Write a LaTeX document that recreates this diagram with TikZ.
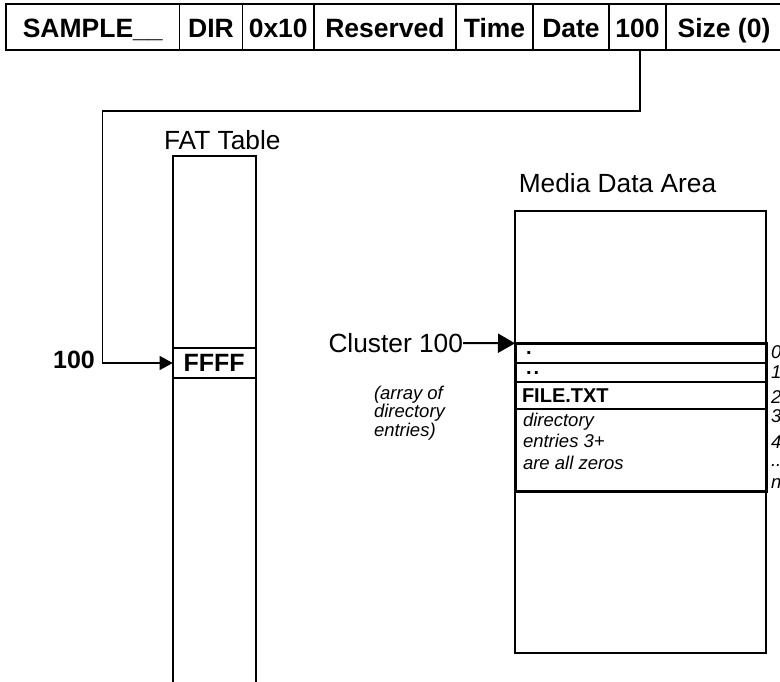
\documentclass[tikz,border=0pt]{standalone}
\usepackage{fontspec}
\setmainfont{Liberation Sans}
\usetikzlibrary{arrows.meta,positioning}

\begin{document}
\begin{tikzpicture}[x=1pt,y=-1pt,
  every node/.style={inner sep=0pt,outer sep=0pt},
  big/.style={font=\fontsize{26.3}{30}\selectfont},
  bigbf/.style={font=\fontsize{25}{30}\selectfont\bfseries},
  hcell/.style={draw,line width=1.3pt,minimum height=46pt,text height=24.6pt,text depth=4pt,font=\fontsize{26.5}{30}\selectfont\bfseries},
  row/.style={draw,line width=1.8pt,minimum width=251pt,text width=237pt,align=left,font=\fontsize{20}{22}\selectfont\bfseries},
  note/.style={font=\fontsize{18.5}{21.5}\selectfont\itshape,align=left},
  idx/.style={font=\fontsize{18.5}{20}\selectfont\itshape,anchor=base west},
  ptr/.style={-{Triangle[length=13pt,width=14pt]},line width=1.2pt}]
\useasboundingbox (0,0) rectangle (780,682);
\clip (0,0) rectangle (780,682);
% directory entry
\node[hcell,minimum width=173.5pt] (cname) at (92.75,27) {SAMPLE\_\_};
\node[hcell,minimum width=63pt] (cattr) at (211,27) {DIR};
\node[hcell,minimum width=71.5pt] (chex) at (278.25,27) {0x10};
\node[hcell,minimum width=142pt] (cres) at (385,27) {Reserved};
\node[hcell,minimum width=77pt] (ctime) at (494.5,27) {Time};
\node[hcell,minimum width=76pt] (cdate) at (571,27) {Date};
\node[hcell,minimum width=57pt] (c100) at (637.5,27) {100};
\node[hcell,minimum width=116pt] (csize) at (724,27) {Size (0)};
% FAT
\node[big] (fatlbl) at (222.3,140) {FAT Table};
\draw[line width=1.8pt] (172.7,690) |- (255.7,155.7) -- (255.7,690);
\node[draw,line width=1.8pt,minimum width=83pt,minimum height=30.3pt,font=\fontsize{25}{30}\selectfont\bfseries] (ffff) at (214.2,363) {FFFF};
\node[bigbf] (ptrlbl) at (74,360) {100};
\coordinate (bend) at (102.7,111);
\draw[ptr] ([xshift=2.5pt]c100.south) |- (bend) |- (ffff.west);
% data area
\node[big] (medialbl) at (617.5,183) {Media Data Area};
\node[draw,line width=2pt,minimum width=251pt,minimum height=442pt] (media) at (640.5,431.7) {};
\node[row,minimum height=20pt,anchor=north west] (r0) at (515,343.3) {\hspace*{4pt}.};
\node[row,minimum height=19pt,below=0pt of r0] (r1) {\hspace*{4pt}.\hspace{2pt}.};
\node[row,minimum height=26.7pt,below=0pt of r1] (r2) {FILE.TXT};
\node[row,minimum height=82pt,below=0pt of r2] (r3) {};
\node[note,anchor=north west] (r3txt) at (523,413) {directory\\entries 3+\\are all zeros};
\draw[line width=3pt] (r0.north west) rectangle (r3.south east);
\node[idx] (i0) at (771,358) {0};
\node[idx] (i1) at (771,378) {1};
\node[idx] (i2) at (771,403) {2};
\node[idx] (i3) at (771,422) {3};
\node[idx] (i4) at (771,448) {4};
\node[idx] (i5) at (771,466) {...};
\node[idx] (i6) at (771,488) {n};
% cluster pointer
\node[big,anchor=east] (clulbl) at (463,343) {Cluster 100};
\draw[-{Triangle[length=17pt,width=19pt]},line width=2pt] (clulbl.east) -- (r0.north west);
\node[note,font=\fontsize{18.5}{18.5}\selectfont\itshape,anchor=north west] (arrnote) at (374,386) {(array of\\directory\\entries)};
\end{tikzpicture}
\end{document}
